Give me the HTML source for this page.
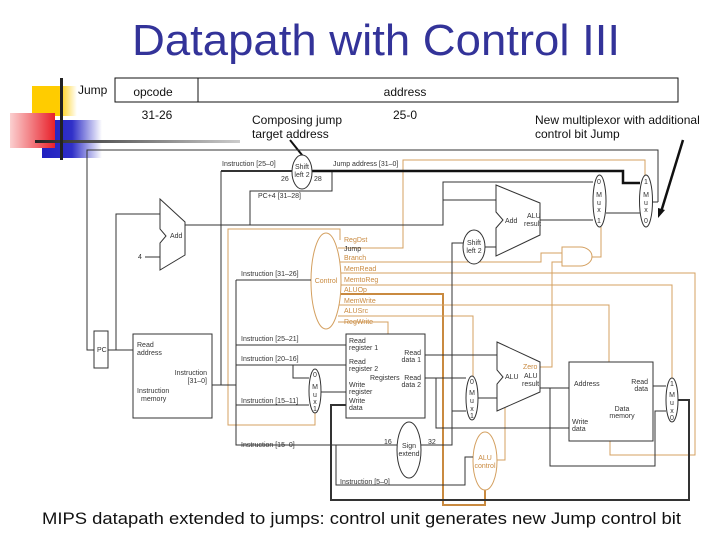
<!DOCTYPE html>
<html><head><meta charset="utf-8"><style>
html,body{margin:0;padding:0;background:#fff}
svg{display:block}
text{font-family:"Liberation Sans",sans-serif}
.s{font-size:7px;fill:#333}
.o{font-size:7px;fill:#c98a40}
</style></head><body>
<svg width="720" height="540" viewBox="0 0 720 540" xmlns="http://www.w3.org/2000/svg">
<defs>
<linearGradient id="gy" x1="0" x2="1"><stop offset="0" stop-color="#ffcc00"/><stop offset="0.6" stop-color="#ffcc00"/><stop offset="1" stop-color="#fff"/></linearGradient>
<linearGradient id="gr" x1="0" x2="1"><stop offset="0" stop-color="#fbd0d0"/><stop offset="1" stop-color="#e8202a"/></linearGradient>
<linearGradient id="gb" x1="0" x2="1"><stop offset="0" stop-color="#2020c0"/><stop offset="0.5" stop-color="#3030c8"/><stop offset="1" stop-color="#fff"/></linearGradient>
<linearGradient id="gl" x1="0" x2="1"><stop offset="0" stop-color="#222"/><stop offset="1" stop-color="#ccc"/></linearGradient>
</defs>
<rect x="32" y="86" width="45" height="30" fill="url(#gy)"/>
<rect x="42" y="120" width="60" height="38" fill="url(#gb)"/>
<rect x="10" y="113" width="45" height="35" fill="url(#gr)"/>
<rect x="35" y="140" width="205" height="3" fill="url(#gl)"/>
<rect x="60" y="78" width="3" height="82" fill="#222"/>

<text x="376" y="55" text-anchor="middle" font-size="44" textLength="488" lengthAdjust="spacingAndGlyphs" fill="#333399">Datapath with Control III</text>
<text x="78" y="94" font-size="12" fill="#111">Jump</text>
<rect x="115" y="78" width="563" height="24" fill="none" stroke="#111"/>
<line x1="198" y1="78" x2="198" y2="102" stroke="#111"/>
<text x="153" y="96" font-size="12" text-anchor="middle" fill="#111">opcode</text>
<text x="405" y="96" font-size="12" text-anchor="middle" fill="#111">address</text>
<text x="157" y="119" font-size="12" text-anchor="middle" fill="#111">31-26</text>
<text x="405" y="119" font-size="12" text-anchor="middle" fill="#111">25-0</text>
<text x="252" y="124" font-size="12" fill="#111">Composing jump</text>
<text x="252" y="138" font-size="12" fill="#111">target address</text>
<text x="535" y="124" font-size="12" fill="#111">New multiplexor with additional</text>
<text x="535" y="138" font-size="12" fill="#111">control bit Jump</text>
<line x1="290" y1="140" x2="306" y2="160" stroke="#111" stroke-width="2"/>
<line x1="683" y1="140" x2="661" y2="212" stroke="#111" stroke-width="2.5"/>
<polygon points="658,218 658,208 665,210" fill="#111"/>

<g fill="none" stroke="#d4a060" stroke-width="1">
<polyline points="340,240 340,229 228,229 228,425 315,425 315,413"/>
<polyline points="338,248 403,248 403,160 645,160 645,175"/>
<polyline points="338,262 541,262 541,253 562,253"/>
<polyline points="590,257 601,257 601,227"/>
<polyline points="338,273 695,273 695,455 610,455 610,441"/>
<polyline points="338,285 672,285 672,378"/>
<polyline points="338,294 443,294 443,505 485,505 485,490" stroke="#c98a40" stroke-width="2"/>
<polyline points="338,305 609,305 609,362"/>
<polyline points="338,316 473,316 473,376"/>
<polyline points="338,322 388,322 388,334"/>
<polyline points="540,367 552,367 552,262 562,262"/>
<polyline points="497,460 505,460 505,405"/>
</g>
<ellipse cx="326" cy="281" rx="15" ry="48" fill="#fff" stroke="#d4a060"/>
<text x="326" y="283" text-anchor="middle" class="o">Control</text>
<g class="o"><text x="344" y="242">RegDst</text><text x="344" y="251" fill="#333">Jump</text><text x="344" y="260">Branch</text><text x="344" y="271">MemRead</text><text x="344" y="282">MemtoReg</text><text x="344" y="292">ALUOp</text><text x="344" y="303">MemWrite</text><text x="344" y="313">ALUSrc</text><text x="344" y="324">RegWrite</text></g>
<ellipse cx="485" cy="461" rx="12" ry="29" fill="#fff" stroke="#d4a060"/>
<text x="485" y="460" text-anchor="middle" class="o" font-size="6">ALU</text>
<text x="485" y="468" text-anchor="middle" class="o" font-size="6">control</text>
<path d="M562,247 H580 A12,9.5 0 0 1 580,266 H562 Z" fill="#fff" stroke="#d4a060"/>

<g fill="none" stroke="#333" stroke-width="1">
<polyline points="658,202 658,150 87,150 87,350 94,350"/>
<polyline points="108,350 133,350"/>
<polyline points="116,350 116,214 160,214"/>
<line x1="145" y1="257" x2="160" y2="257"/>
<polyline points="212,385 236,385"/>
<line x1="221" y1="171" x2="221" y2="385"/>
<polyline points="236,280 236,445 397,445"/>
<line x1="236" y1="280" x2="311" y2="280"/>
<line x1="236" y1="345" x2="346" y2="345"/>
<line x1="236" y1="365" x2="346" y2="365"/>
<polyline points="293,365 293,378 309,378"/>
<line x1="236" y1="405" x2="309" y2="405"/>
<line x1="320" y1="392" x2="346" y2="392"/>
<polyline points="336,445 336,485 465,485 465,457 473,457"/>
<polyline points="421,445 452,445 452,243 463,243"/>
<polyline points="452,411 466,411"/>
<line x1="425" y1="355" x2="497" y2="355"/>
<line x1="425" y1="378" x2="466" y2="378"/>
<polyline points="436,378 436,428 569,428"/>
<line x1="478" y1="398" x2="497" y2="398"/>
<line x1="540" y1="388" x2="569" y2="388"/>
<polyline points="550,388 550,466 655,466 655,411 666,411"/>
<line x1="653" y1="386" x2="666" y2="386"/>
<polyline points="678,400 689,400 689,500 331,500 331,405 346,405" stroke-width="2"/>
<polyline points="185,225 443,225 443,182 593,182"/>
<line x1="443" y1="200" x2="496" y2="200"/>
<line x1="485" y1="247" x2="496" y2="247"/>
<line x1="540" y1="220" x2="593" y2="220"/>
<line x1="606" y1="213" x2="640" y2="213"/>
<polyline points="250,225 250,191 332,191 332,171"/>
<line x1="652" y1="202" x2="658" y2="202"/>
<polyline points="221,171 292,171" stroke-width="2"/>
<polyline points="312,171 623,171 623,183 640,183" stroke-width="2.5" stroke="#111"/>
</g>
<ellipse cx="302" cy="172" rx="10" ry="17" fill="#fff" stroke="#333"/>
<text x="302" y="169" text-anchor="middle" class="s" font-size="6">Shift</text>
<text x="302" y="177" text-anchor="middle" class="s" font-size="6">left 2</text>
<text x="281" y="181" class="s">26</text><text x="314" y="181" class="s">28</text>
<text x="222" y="166" class="s">Instruction [25–0]</text>
<text x="333" y="166" class="s">Jump address [31–0]</text>
<text x="258" y="198" class="s">PC+4 [31–28]</text>
<polygon points="160,199 185,222 185,255 160,270 160,243 166,236 160,229" fill="#fff" stroke="#333"/>
<text x="170" y="238" class="s">Add</text>
<text x="138" y="259" class="s">4</text>
<rect x="94" y="331" width="14" height="37" fill="#fff" stroke="#333"/>
<text x="97" y="352" class="s">PC</text>
<rect x="133" y="334" width="79" height="84" fill="#fff" stroke="#333"/>
<text x="137" y="347" class="s">Read</text><text x="137" y="355" class="s">address</text>
<text x="207" y="375" class="s" text-anchor="end">Instruction</text><text x="207" y="383" class="s" text-anchor="end">[31–0]</text>
<text x="137" y="393" class="s">Instruction</text><text x="141" y="401" class="s">memory</text>
<text x="241" y="276" class="s">Instruction [31–26]</text>
<text x="241" y="341" class="s">Instruction [25–21]</text>
<text x="241" y="361" class="s">Instruction [20–16]</text>
<text x="241" y="403" class="s">Instruction [15–11]</text>
<text x="241" y="447" class="s">Instruction [15–0]</text>
<text x="340" y="484" class="s">Instruction [5–0]</text>
<ellipse cx="315" cy="391" rx="6" ry="22" fill="#fff" stroke="#333"/>
<text x="315" y="377" class="s" text-anchor="middle" font-size="6">0</text><text x="315" y="389" class="s" text-anchor="middle" font-size="6">M</text><text x="315" y="397" class="s" text-anchor="middle" font-size="6">u</text><text x="315" y="404" class="s" text-anchor="middle" font-size="6">x</text><text x="315" y="411" class="s" text-anchor="middle" font-size="6">1</text>
<rect x="346" y="334" width="79" height="84" fill="#fff" stroke="#333"/>
<text x="349" y="343" class="s">Read</text><text x="349" y="350" class="s">register 1</text>
<text x="349" y="364" class="s">Read</text><text x="349" y="371" class="s">register 2</text>
<text x="370" y="380" class="s">Registers</text>
<text x="349" y="387" class="s">Write</text><text x="349" y="394" class="s">register</text>
<text x="349" y="403" class="s">Write</text><text x="349" y="410" class="s">data</text>
<text x="421" y="355" class="s" text-anchor="end">Read</text><text x="421" y="362" class="s" text-anchor="end">data 1</text>
<text x="421" y="380" class="s" text-anchor="end">Read</text><text x="421" y="387" class="s" text-anchor="end">data 2</text>
<ellipse cx="409" cy="450" rx="12" ry="28" fill="#fff" stroke="#333"/>
<text x="409" y="448" class="s" text-anchor="middle">Sign</text><text x="409" y="456" class="s" text-anchor="middle">extend</text>
<text x="384" y="444" class="s">16</text><text x="428" y="444" class="s">32</text>
<ellipse cx="472" cy="398" rx="6" ry="22" fill="#fff" stroke="#333"/>
<text x="472" y="384" class="s" text-anchor="middle" font-size="6">0</text><text x="472" y="395" class="s" text-anchor="middle" font-size="6">M</text><text x="472" y="403" class="s" text-anchor="middle" font-size="6">u</text><text x="472" y="411" class="s" text-anchor="middle" font-size="6">x</text><text x="472" y="418" class="s" text-anchor="middle" font-size="6">1</text>
<polygon points="497,342 540,362 540,392 497,411 497,384 503,377 497,370" fill="#fff" stroke="#333"/>
<text x="505" y="379" class="s">ALU</text>
<text x="523" y="369" class="o">Zero</text>
<text x="524" y="378" class="s">ALU</text><text x="522" y="386" class="s">result</text>
<rect x="569" y="362" width="84" height="79" fill="#fff" stroke="#333"/>
<text x="574" y="386" class="s">Address</text>
<text x="648" y="384" class="s" text-anchor="end">Read</text><text x="648" y="391" class="s" text-anchor="end">data</text>
<text x="622" y="411" class="s" text-anchor="middle">Data</text><text x="622" y="418" class="s" text-anchor="middle">memory</text>
<text x="572" y="424" class="s">Write</text><text x="572" y="431" class="s">data</text>
<ellipse cx="672" cy="400" rx="6" ry="22" fill="#fff" stroke="#333"/>
<text x="672" y="386" class="s" text-anchor="middle" font-size="6">1</text><text x="672" y="397" class="s" text-anchor="middle" font-size="6">M</text><text x="672" y="405" class="s" text-anchor="middle" font-size="6">u</text><text x="672" y="413" class="s" text-anchor="middle" font-size="6">x</text><text x="672" y="420" class="s" text-anchor="middle" font-size="6">0</text>
<polygon points="496,185 540,203 540,235 496,256 496,228 503,220 496,212" fill="#fff" stroke="#333"/>
<text x="505" y="223" class="s">Add</text>
<text x="527" y="218" class="s">ALU</text><text x="524" y="226" class="s">result</text>
<ellipse cx="474" cy="247" rx="11" ry="17" fill="#fff" stroke="#333"/>
<text x="474" y="245" class="s" text-anchor="middle" font-size="6">Shift</text><text x="474" y="253" class="s" text-anchor="middle" font-size="6">left 2</text>
<ellipse cx="599.5" cy="201" rx="6.5" ry="26" fill="#fff" stroke="#333"/>
<text x="599" y="184" class="s" text-anchor="middle" font-size="6">0</text><text x="599" y="197" class="s" text-anchor="middle" font-size="6">M</text><text x="599" y="205" class="s" text-anchor="middle" font-size="6">u</text><text x="599" y="212" class="s" text-anchor="middle" font-size="6">x</text><text x="599" y="223" class="s" text-anchor="middle" font-size="6">1</text>
<ellipse cx="646" cy="201" rx="6.5" ry="26" fill="#fff" stroke="#333"/>
<text x="646" y="184" class="s" text-anchor="middle" font-size="6">1</text><text x="646" y="197" class="s" text-anchor="middle" font-size="6">M</text><text x="646" y="205" class="s" text-anchor="middle" font-size="6">u</text><text x="646" y="212" class="s" text-anchor="middle" font-size="6">x</text><text x="646" y="223" class="s" text-anchor="middle" font-size="6">0</text>
<text x="42" y="524" font-size="17" textLength="639" lengthAdjust="spacingAndGlyphs" fill="#111">MIPS datapath extended to jumps: control unit generates new Jump control bit</text>
</svg>
</body></html>
